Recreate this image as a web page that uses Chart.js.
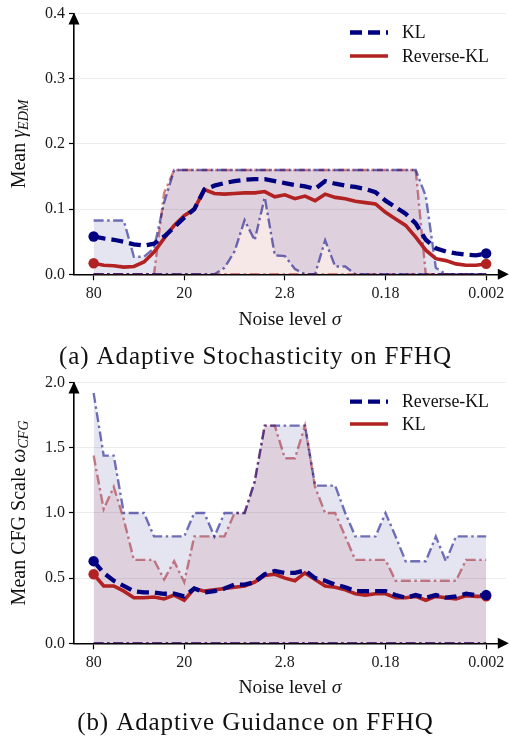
<!DOCTYPE html>
<html><head><meta charset="utf-8">
<script src="https://cdn.jsdelivr.net/npm/chart.js@4"></script>
<style>
html,body{margin:0;padding:0;background:#fff;width:511px;height:736px;overflow:hidden}
.box{position:absolute;left:0;width:511px}
canvas{display:block}
</style></head><body>
<div class="box" style="top:0;height:369px"><canvas id="c1" width="511" height="369"></canvas></div>
<div class="box" style="top:369px;height:367px"><canvas id="c2" width="511" height="367"></canvas></div>
<script>
// ---- shared axis ticks ----
const xTickIdx = [0, 9, 19, 29, 39];
const xTickLabels = ['80', '20', '2.8', '0.18', '0.002'];
const yTicksA = [0, 0.1, 0.2, 0.3, 0.4];
const yTicksB = [0, 0.5, 1.0, 1.5, 2.0];

// ---- (a) Adaptive Stochasticity ----
const aKLMean = [0.058,0.055,0.053,0.050,0.046,0.044,0.047,0.058,0.072,0.087,
  0.100,0.130,0.136,0.140,0.143,0.145,0.146,0.146,0.143,0.140,
  0.137,0.135,0.131,0.143,0.139,0.136,0.134,0.131,0.126,0.113,
  0.103,0.093,0.078,0.053,0.040,0.035,0.032,0.030,0.029,0.032];
const aRKLMean = [0.017,0.014,0.013,0.011,0.012,0.019,0.034,0.055,0.075,0.090,
  0.100,0.130,0.124,0.123,0.124,0.125,0.125,0.127,0.119,0.122,
  0.116,0.120,0.113,0.123,0.118,0.116,0.112,0.110,0.108,0.095,
  0.085,0.075,0.057,0.037,0.024,0.021,0.016,0.014,0.014,0.016];
const aKLUpper = [0.0825,0.0825,0.0825,0.0825,0.027,0.027,0.04,0.11,0.16,0.16,
  0.16,0.16,0.16,0.16,0.16,0.16,0.16,0.16,0.16,0.16,
  0.16,0.16,0.16,0.16,0.16,0.16,0.16,0.16,0.16,0.16,
  0.16,0.16,0.16,0.12,0.01,0,0,0,0,0];
const aKLLower = [0,0,0,0,0,0,0,0,0,0,
  0,0,0,0.01,0.035,0.083,0.052,0.118,0.029,0.028,
  0.008,0,0,0.052,0.012,0.012,0,0,0,0,
  0,0,0,0,0,0,0,0,0,0];
const aRKLUpper = [0,0,0,0,0,0,0,0.125,0.16,0.16,
  0.16,0.16,0.16,0.16,0.16,0.16,0.16,0.16,0.16,0.16,
  0.16,0.16,0.16,0.16,0.16,0.16,0.16,0.16,0.16,0.16,
  0.16,0.16,0.16,0,0,0,0,0,0,0];
const aRKLLower = [0,0,0,0,0,0,0,0,0,0,
  0,0,0,0,0,0,0,0,0,0,
  0,0,0,0,0,0,0,0,0,0,
  0,0,0,0,0,0,0,0,0,0];

// ---- (b) Adaptive Guidance ----
const bRKLMean = [0.63,0.54,0.48,0.44,0.40,0.39,0.39,0.38,0.38,0.36,
  0.42,0.39,0.40,0.42,0.45,0.45,0.47,0.53,0.555,0.54,
  0.54,0.56,0.50,0.48,0.45,0.43,0.40,0.40,0.40,0.40,
  0.37,0.35,0.37,0.35,0.37,0.35,0.36,0.38,0.37,0.37];
const bKLMean = [0.53,0.44,0.44,0.40,0.35,0.35,0.355,0.34,0.37,0.33,
  0.42,0.40,0.41,0.42,0.43,0.44,0.47,0.52,0.53,0.50,
  0.48,0.54,0.49,0.44,0.43,0.41,0.38,0.37,0.38,0.38,
  0.35,0.35,0.36,0.33,0.36,0.35,0.34,0.365,0.36,0.36];
const bRKLUpper = [1.92,1.44,1.44,1.0,1.0,1.0,0.82,0.82,0.82,0.82,
  1.0,1.0,0.82,1.0,1.0,1.0,1.24,1.67,1.67,1.67,
  1.67,1.67,1.21,1.21,1.21,1.0,0.82,0.82,0.82,1.0,
  0.82,0.63,0.63,0.63,0.82,0.63,0.82,0.82,0.82,0.82];
const bRKLLower = [0,0,0,0,0,0,0,0,0,0,
  0,0,0,0,0,0,0,0,0,0,
  0,0,0,0,0,0,0,0,0,0,
  0,0,0,0,0,0,0,0,0,0];
const bKLUpper = [1.44,1.03,1.2,0.95,0.64,0.64,0.64,0.49,0.63,0.47,
  0.82,0.82,0.82,0.82,1.0,1.0,1.24,1.67,1.67,1.42,
  1.42,1.67,1.2,1.0,1.0,0.82,0.64,0.64,0.64,0.64,
  0.48,0.48,0.48,0.48,0.48,0.48,0.48,0.64,0.64,0.64];
const bKLLower = [0,0,0,0,0,0,0,0,0,0,
  0,0,0,0,0,0,0,0,0,0,
  0,0,0,0,0,0,0,0,0,0,
  0,0,0,0,0,0,0,0,0,0];

const NAVY = '#000080', RED = '#b22222';
const NAVY_LINE = 'rgba(0,0,128,0.55)', RED_LINE = 'rgba(178,34,34,0.55)';
const NAVY_FILL = 'rgba(0,0,128,0.1)', RED_FILL = 'rgba(178,34,34,0.1)';
const SERIF = '"Liberation Serif", "Times New Roman", serif';
const NAVY_W = 4.3, RED_W = 3.6, NAVY_DASH = [12, 6];

const pts = arr => arr.map((v, i) => ({x: i, y: v}));

function meanDs(arr, color, dashed) {
  const n = arr.length;
  return {
    data: pts(arr), borderColor: color, backgroundColor: color,
    borderWidth: dashed ? NAVY_W : RED_W, borderDash: dashed ? NAVY_DASH : [],
    pointRadius: c => (c.dataIndex === 0 || c.dataIndex === n - 1) ? 5.2 : 0,
    pointBorderWidth: 0, pointBackgroundColor: color, fill: false, tension: 0
  };
}
function bandDs(arr, color, fillTarget, fillColor) {
  return {
    data: pts(arr), borderColor: color, borderWidth: 2.4, borderDash: [10, 3.5, 2.5, 3.5],
    pointRadius: 0, tension: 0,
    fill: fillTarget === null ? false : {target: fillTarget, above: fillColor, below: fillColor}
  };
}

const deco = {
  id: 'deco',
  afterDraw(chart, args, o) {
    const {ctx, chartArea: a} = chart;
    ctx.save();
    // arrows
    ctx.fillStyle = '#000';
    ctx.beginPath();
    ctx.moveTo(a.left, a.top - 1); ctx.lineTo(a.left - 5.5, a.top + 11); ctx.lineTo(a.left + 5.5, a.top + 11);
    ctx.closePath(); ctx.fill();
    ctx.beginPath();
    ctx.moveTo(a.right + 3, a.bottom); ctx.lineTo(a.right - 8, a.bottom - 5.5); ctx.lineTo(a.right - 8, a.bottom + 5.5);
    ctx.closePath(); ctx.fill();

    ctx.fillStyle = '#111';
    ctx.textBaseline = 'middle';
    // x title
    const xParts = [{t: 'Noise level ', f: '19.5px ' + SERIF, dy: 0}, {t: 'σ', f: 'italic 19.5px ' + SERIF, dy: 0}];
    drawParts(ctx, xParts, (a.left + a.right) / 2, o.xTitleY, 0);
    // y title
    drawParts(ctx, o.yParts, 20, (a.top + a.bottom) / 2, -Math.PI / 2);
    // legend
    o.legend.forEach((L, k) => {
      const y = o.legendY[k];
      ctx.beginPath();
      ctx.strokeStyle = L.color; ctx.lineWidth = L.width; ctx.setLineDash(L.dash);
      ctx.moveTo(350, y); ctx.lineTo(388, y); ctx.stroke();
      ctx.setLineDash([]);
      ctx.font = '17.8px ' + SERIF; ctx.textAlign = 'left'; ctx.fillStyle = '#111';
      ctx.fillText(L.label, 402, y + 1);
    });
    // caption
    ctx.font = '25px ' + SERIF;
    ctx.letterSpacing = '0.9px';
    ctx.textAlign = 'center';
    ctx.fillText(o.caption, 255.5, o.captionY);
    ctx.restore();
  }
};
function drawParts(ctx, parts, cx, cy, rot) {
  ctx.save();
  ctx.translate(cx, cy); ctx.rotate(rot);
  ctx.textAlign = 'left';
  let w = 0;
  parts.forEach(p => { ctx.font = p.f; w += ctx.measureText(p.t).width; });
  let x = -w / 2;
  parts.forEach(p => { ctx.font = p.f; ctx.fillText(p.t, x, p.dy); x += ctx.measureText(p.t).width; });
  ctx.restore();
}

function makeChart(id, opt) {
  const canvas = document.getElementById(id);
  return new Chart(canvas, {
    type: 'line',
    data: {datasets: [
      meanDs(opt.dashedMean, NAVY, true),
      meanDs(opt.solidMean, RED, false),
      bandDs(opt.navyUpper, NAVY_LINE, 3, NAVY_FILL),
      bandDs(opt.navyLower, NAVY_LINE, null),
      bandDs(opt.redUpper, RED_LINE, 5, RED_FILL),
      bandDs(opt.redLower, RED_LINE, null)
    ]},
    options: {
      responsive: false, animation: false, devicePixelRatio: 1,
      layout: {padding: {top: opt.padTop, right: 4.5, left: 0, bottom: 0}},
      plugins: {legend: {display: false}, tooltip: {enabled: false}, deco: opt.deco},
      scales: {
        x: {
          type: 'linear', min: -1.95, max: 40.95,
          afterBuildTicks: s => { s.ticks = xTickIdx.map(v => ({value: v})); },
          afterFit: s => { s.height = opt.xAxisH; },
          ticks: {callback: v => xTickLabels[xTickIdx.indexOf(v)], font: {family: SERIF, size: 16}, color: '#1a1a1a', padding: 4, maxRotation: 0, autoSkip: false},
          grid: {display: true, drawOnChartArea: false, drawTicks: true, tickLength: 6, tickColor: '#000', tickWidth: 1.2},
          border: {display: true, color: '#000', width: 1.6}
        },
        y: {
          type: 'linear', min: opt.yTicks[0], max: opt.yTicks[opt.yTicks.length - 1],
          afterBuildTicks: s => { s.ticks = opt.yTicks.map(v => ({value: v})); },
          afterFit: s => { s.width = 74; },
          ticks: {callback: v => v.toFixed(1), font: {family: SERIF, size: 16}, color: '#1a1a1a', padding: 4},
          grid: {display: true, color: '#ececec', lineWidth: 1, drawTicks: true, tickLength: 5, tickColor: '#000', tickWidth: 1.2},
          border: {display: true, color: '#000', width: 1.6}
        }
      }
    },
    plugins: [deco]
  });
}

makeChart('c1', {
  dashedMean: aKLMean, solidMean: aRKLMean,
  navyUpper: aKLUpper, navyLower: aKLLower, redUpper: aRKLUpper, redLower: aRKLLower,
  yTicks: yTicksA, padTop: 11, xAxisH: 369 - 274.3,
  deco: {
    xTitleY: 320, captionY: 357,
    yParts: [{t: 'Mean ', f: '20px ' + SERIF, dy: 0}, {t: 'γ', f: 'italic 20px ' + SERIF, dy: 0}, {t: 'EDM', f: 'italic 14px ' + SERIF, dy: 4}],
    legend: [{label: 'KL', color: NAVY, width: NAVY_W, dash: NAVY_DASH}, {label: 'Reverse-KL', color: RED, width: RED_W, dash: []}],
    legendY: [32.5, 56],
    caption: '(a) Adaptive Stochasticity on FFHQ'
  }
});
makeChart('c2', {
  dashedMean: bRKLMean, solidMean: bKLMean,
  navyUpper: bRKLUpper, navyLower: bRKLLower, redUpper: bKLUpper, redLower: bKLLower,
  yTicks: yTicksB, padTop: 10.3, xAxisH: 367 - 274.3,
  deco: {
    xTitleY: 319.3, captionY: 354.3,
    yParts: [{t: 'Mean CFG Scale ', f: '20px ' + SERIF, dy: 0}, {t: 'ω', f: 'italic 20px ' + SERIF, dy: 0}, {t: 'CFG', f: 'italic 14px ' + SERIF, dy: 4}],
    legend: [{label: 'Reverse-KL', color: NAVY, width: NAVY_W, dash: NAVY_DASH}, {label: 'KL', color: RED, width: RED_W, dash: []}],
    legendY: [32.7, 55],
    caption: '(b) Adaptive Guidance on FFHQ'
  }
});
</script>
</body></html>
